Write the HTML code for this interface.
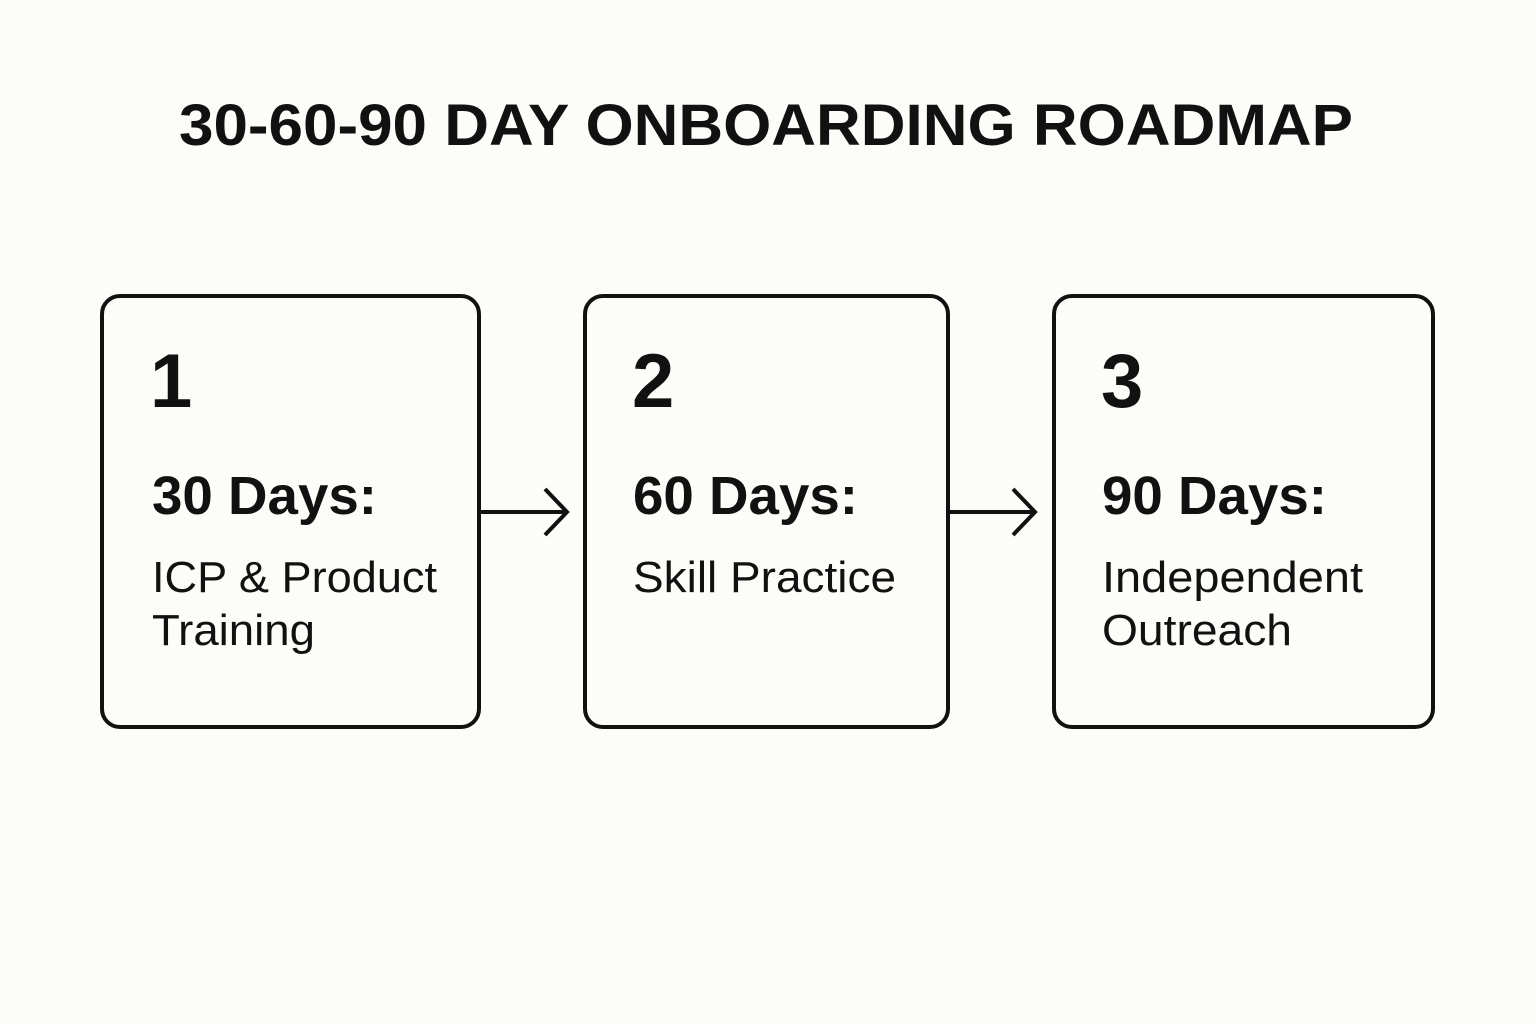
<!DOCTYPE html>
<html><head><meta charset="utf-8"><style>
html,body{margin:0;padding:0;background:#fcfcf8;}
svg{display:block}
text{font-family:"Liberation Sans",sans-serif;fill:#111;}
</style></head><body>
<svg width="1536" height="1024" viewBox="0 0 1536 1024" xmlns="http://www.w3.org/2000/svg">
<rect width="1536" height="1024" fill="#fcfcf8"/>
<text x="179" y="145" font-size="58" font-weight="bold" textLength="1174" lengthAdjust="spacingAndGlyphs">30-60-90 DAY ONBOARDING ROADMAP</text>
<g fill="none" stroke="#111" stroke-width="4">
<rect x="102" y="296" width="377" height="431" rx="18"/>
<rect x="585" y="296" width="363" height="431" rx="18"/>
<rect x="1054" y="296" width="379" height="431" rx="18"/>
<path d="M481 512H567M545 489L567 512L545 535"/>
<path d="M950 512H1035M1013 489L1035 512L1013 535"/>
</g>
<g font-weight="bold">
<text x="150" y="407" font-size="76">1</text>
<text x="632" y="407" font-size="76">2</text>
<text x="1101" y="407" font-size="76">3</text>
<text x="152" y="514" font-size="54" textLength="225" lengthAdjust="spacingAndGlyphs">30 Days:</text>
<text x="633" y="514" font-size="54" textLength="225" lengthAdjust="spacingAndGlyphs">60 Days:</text>
<text x="1102" y="514" font-size="54" textLength="225" lengthAdjust="spacingAndGlyphs">90 Days:</text>
</g>
<g font-size="44">
<text x="152" y="592" textLength="285" lengthAdjust="spacingAndGlyphs">ICP &amp; Product</text>
<text x="152" y="645" textLength="163" lengthAdjust="spacingAndGlyphs">Training</text>
<text x="633" y="592" textLength="263" lengthAdjust="spacingAndGlyphs">Skill Practice</text>
<text x="1102" y="592" textLength="261" lengthAdjust="spacingAndGlyphs">Independent</text>
<text x="1102" y="645" textLength="190" lengthAdjust="spacingAndGlyphs">Outreach</text>
</g>
</svg>
</body></html>
